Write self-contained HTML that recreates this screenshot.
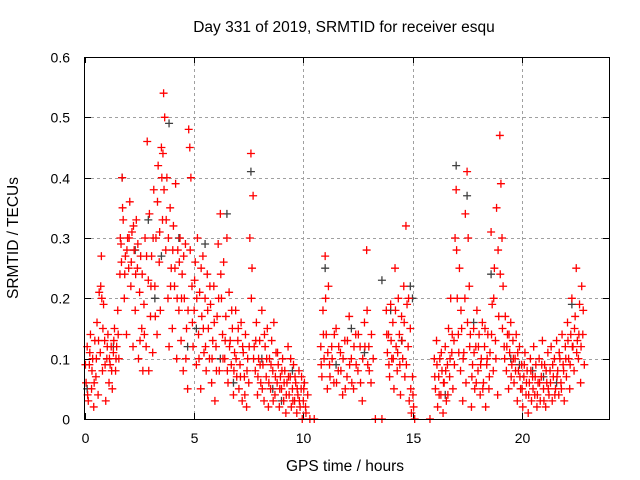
<!DOCTYPE html>
<html><head><meta charset="utf-8"><style>
html,body{margin:0;padding:0;background:#fff;}
svg{display:block;font-family:"Liberation Sans",sans-serif;}
</style></head><body>
<svg id="chart" width="640" height="480">
<text x="344" y="32" font-size="15.5" text-anchor="middle">Day 331 of 2019, SRMTID for receiver esqu</text>
<text x="345" y="471" font-size="15.5" text-anchor="middle">GPS time / hours</text>
<text transform="translate(18,238) rotate(-90)" font-size="15.5" text-anchor="middle">SRMTID / TECUs</text>
<g id="grid"></g>
<g id="axes"></g>
<g id="marks"></g>
<rect x="84.5" y="57.5" width="525" height="362" fill="none" stroke="#000"/>
</svg>
<script>
const xTicks=[0,5,10,15,20];
const yTicks=[0,0.1,0.2,0.3,0.4,0.5,0.6];
const yTickLabels=["0","0.1","0.2","0.3","0.4","0.5","0.6"];
const redT=[0.05,0.1,0.15,0.2,0.25,0.3,0.35,0.4,0.45,0.5,0.55,0.6,0.65,0.7,0.75,0.8,0.85,0.9,0.95,1.0,1.05,1.1,1.15,1.2,1.25,1.3,1.35,1.4,1.45,1.5,1.55,1.6,1.65,1.7,1.75,1.8,1.85,1.9,1.95,2.0,2.05,2.1,2.15,2.2,2.25,2.3,2.35,2.4,2.45,2.5,2.55,2.6,2.65,2.7,2.75,2.8,2.85,2.9,2.95,3.0,3.05,3.1,3.15,3.2,3.25,3.3,3.35,3.4,3.45,3.5,3.55,3.6,3.65,3.7,3.75,3.8,3.85,3.9,3.95,4.0,4.05,4.1,4.15,4.2,4.25,4.3,4.35,4.4,4.45,4.5,4.55,4.6,4.65,4.7,4.75,4.8,4.85,4.9,4.95,5.0,5.05,5.1,5.15,5.2,5.25,5.3,5.35,5.4,5.45,5.5,5.55,5.6,5.65,5.7,5.75,5.8,5.85,5.9,5.95,6.0,6.05,6.1,6.15,6.2,6.25,6.3,6.35,6.4,6.45,6.5,6.55,6.6,6.65,6.7,6.75,6.8,6.85,6.9,6.95,7.0,7.05,7.1,7.15,7.2,7.25,7.3,7.35,7.4,7.45,7.5,7.55,7.6,7.65,7.7,7.75,7.8,7.85,7.9,7.95,8.0,8.05,8.1,8.15,8.2,8.25,8.3,8.35,8.4,8.45,8.5,8.55,8.6,8.65,8.7,8.75,8.8,8.85,8.9,8.95,9.0,9.05,9.1,9.15,9.2,9.25,9.3,9.35,9.4,9.45,9.5,9.55,9.6,9.65,9.7,9.75,9.8,9.85,9.9,9.95,10.0,10.05,10.1,10.2,10.3,10.5,10.8,10.85,10.9,10.95,11.0,11.05,11.1,11.15,11.2,11.3,11.4,11.5,11.6,11.7,11.8,11.9,12.0,12.1,12.2,12.3,12.4,12.5,12.6,12.7,12.8,12.9,12.95,13.0,13.1,13.2,13.3,13.6,13.8,13.85,13.9,13.95,14.0,14.05,14.1,14.15,14.2,14.25,14.3,14.35,14.4,14.45,14.5,14.55,14.6,14.65,14.7,14.75,14.8,14.85,14.9,14.95,15.0,15.05,15.1,15.8,16.0,16.05,16.1,16.15,16.2,16.25,16.3,16.35,16.4,16.45,16.5,16.55,16.6,16.65,16.7,16.75,16.8,16.85,16.9,16.95,17.0,17.05,17.1,17.15,17.2,17.25,17.3,17.35,17.4,17.45,17.5,17.55,17.6,17.65,17.7,17.75,17.8,17.85,17.9,17.95,18.0,18.05,18.1,18.15,18.2,18.25,18.3,18.35,18.4,18.45,18.5,18.55,18.6,18.65,18.7,18.75,18.8,18.85,18.9,18.95,19.0,19.05,19.1,19.15,19.2,19.25,19.3,19.35,19.4,19.45,19.5,19.55,19.6,19.65,19.7,19.75,19.8,19.85,19.9,19.95,20.0,20.05,20.1,20.15,20.2,20.25,20.3,20.35,20.4,20.45,20.5,20.55,20.6,20.65,20.7,20.75,20.8,20.85,20.9,20.95,21.0,21.05,21.1,21.15,21.2,21.25,21.3,21.35,21.4,21.45,21.5,21.55,21.6,21.65,21.7,21.75,21.8,21.85,21.9,21.95,22.0,22.05,22.1,22.15,22.2,22.25,22.3,22.35,22.4,22.45,22.5,22.55,22.6,22.65,22.7,22.75,22.8];
const redV=[.06,.12,.03,.09,.14,.05,.1,.02,.13,.07,.16,.04,.21,.11,.27,.08,.19,.13,.03,.1,.14,.06,.09,.12,.05,.11,.15,.08,.12,.18,.1,.24,.29,.4,.33,.2,.27,.14,.3,.25,.36,.22,.31,.12,.28,.18,.33,.25,.1,.21,.27,.15,.08,.19,.3,.12,.46,.23,.34,.17,.27,.11,.38,.22,.3,.14,.42,.26,.18,.45,.33,.54,.5,.28,.4,.2,.12,.35,.25,.15,.32,.22,.39,.1,.28,.18,.3,.13,.24,.08,.2,.29,.15,.05,.48,.45,.4,.22,.12,.18,.26,.09,.3,.14,.21,.05,.17,.27,.11,.2,.08,.24,.15,.1,.19,.06,.13,.22,.03,.12,.17,.29,.08,.34,.2,.14,.26,.1,.17,.3,.06,.21,.13,.09,.15,.04,.11,.18,.07,.13,.05,.09,.16,.03,.11,.07,.14,.02,.1,.06,.3,.44,.25,.37,.12,.08,.16,.04,.1,.13,.06,.18,.09,.03,.12,.07,.15,.02,.1,.05,.13,.08,.16,.04,.11,.06,.09,.02,.07,.05,.1,.03,.08,.01,.06,.12,.04,.07,.02,.05,.09,.03,.06,.01,.04,.08,.02,.05,0,.03,.06,.02,.04,0,0,.12,.07,.18,.1,.27,.14,.05,.22,.09,.12,.06,.15,.08,.11,.04,.13,.07,.17,.1,.05,.14,.08,.12,.03,.16,.28,.09,.12,.06,.1,0,0,.18,.11,.14,.07,.19,.1,.16,.05,.25,.12,.08,.2,.14,.04,.17,.1,.22,.07,.32,.19,.12,.03,.15,.01,.07,.02,0,0,.1,.05,.13,.02,.07,.1,.04,.08,.01,.06,.12,.03,.09,.15,.07,.2,.11,.05,.13,.3,.38,.2,.14,.25,.08,.15,.03,.11,.2,.06,.41,.3,.22,.14,.02,.09,.15,.05,.12,.18,.08,.14,.04,.1,.16,.06,.12,.02,.09,.14,.05,.11,.31,.19,.08,.25,.13,.35,.04,.17,.47,.39,.3,.22,.12,.17,.08,.14,.05,.11,.16,.09,.13,.06,.1,.14,.03,.08,.12,.05,.09,.02,.07,.11,.04,.08,.01,.06,.1,.03,.07,.12,.04,.09,.02,.06,.1,.03,.07,.13,.05,.09,.02,.06,.11,.04,.08,.12,.03,.07,.1,.05,.13,.08,.04,.1,.06,.14,.09,.03,.12,.07,.16,.1,.05,.14,.2,.12,.08,.17,.25,.13,.1,.19,.06,.22,.14];
const red2T=[0.02,0.12,0.22,0.32,0.42,0.52,0.62,0.72,0.77,0.82,0.92,1.02,1.12,1.22,1.32,1.42,1.52,1.62,1.67,1.72,1.82,1.92,2.02,2.12,2.22,2.32,2.42,2.52,2.62,2.72,2.82,2.92,3.02,3.12,3.22,3.32,3.42,3.52,3.57,3.62,3.72,3.82,3.92,4.02,4.12,4.22,4.32,4.42,4.52,4.62,4.72,4.82,4.92,5.02,5.12,5.22,5.32,5.42,5.52,5.62,5.72,5.82,5.92,6.02,6.12,6.22,6.32,6.42,6.52,6.62,6.72,6.82,6.92,7.02,7.12,7.22,7.32,7.42,7.52,7.62,7.72,7.82,7.92,8.02,8.12,8.22,8.32,8.42,8.52,8.62,8.72,8.82,8.92,9.02,9.12,9.22,9.32,9.42,9.52,9.62,9.72,9.82,9.92,10.02,10.12,10.82,10.92,11.02,11.12,11.22,11.32,11.42,11.52,11.62,11.72,11.82,11.92,12.02,12.12,12.22,12.32,12.42,12.52,12.62,12.72,12.82,12.92,13.02,13.12,13.82,13.92,14.02,14.12,14.22,14.32,14.42,14.52,14.62,14.72,14.82,14.92,15.02,16.02,16.12,16.22,16.32,16.42,16.52,16.62,16.72,16.82,16.92,17.02,17.12,17.22,17.32,17.42,17.52,17.62,17.72,17.82,17.92,18.02,18.12,18.22,18.32,18.42,18.52,18.62,18.72,18.82,18.92,19.02,19.12,19.22,19.32,19.42,19.52,19.62,19.72,19.82,19.92,20.02,20.12,20.22,20.32,20.42,20.52,20.62,20.72,20.82,20.92,21.02,21.12,21.22,21.32,21.42,21.52,21.62,21.72,21.82,21.92,22.02,22.12,22.22,22.32,22.42,22.52,22.62,22.72,22.82,22.87];
const red2V=[.09,.04,.11,.08,.06,.1,.13,.22,.2,.15,.09,.12,.1,.08,.13,.1,.14,.3,.26,.35,.24,.28,.3,.26,.32,.24,.29,.13,.24,.14,.27,.08,.22,.3,.17,.36,.31,.4,.44,.38,.33,.3,.22,.28,.25,.2,.26,.2,.27,.1,.18,.28,.16,.23,.2,.1,.25,.15,.12,.18,.22,.1,.16,.08,.2,.24,.1,.13,.08,.12,.18,.08,.1,.15,.07,.12,.04,.08,.12,.2,.1,.13,.07,.09,.05,.14,.1,.06,.09,.03,.07,.11,.05,.08,.06,.04,.07,.1,.03,.07,.05,.03,.07,.05,.01,.09,.14,.2,.11,.07,.1,.14,.06,.12,.08,.1,.05,.13,.09,.06,.12,.09,.14,.06,.1,.12,.18,.08,.14,.14,.09,.13,.1,.18,.11,.09,.13,.16,.09,.2,.05,.04,.07,.09,.04,.11,.06,.08,.04,.1,.14,.09,.28,.11,.18,.1,.34,.16,.12,.07,.11,.06,.12,.09,.05,.15,.1,.07,.14,.2,.1,.28,.24,.15,.1,.12,.14,.07,.1,.08,.11,.07,.05,.09,.06,.04,.08,.05,.07,.04,.06,.09,.03,.08,.05,.06,.09,.04,.07,.11,.05,.08,.1,.13,.09,.12,.15,.11,.14,.12,.18,.09];
const darkT=[0.1,1.7,2.9,3.5,3.85,4.3,5.5,6.5,7.6,8.1,9.5,11.0,12.2,13.6,14.0,14.9,15.0,17.0,17.5,18.6,19.5,21.0,22.3,2.3,4.7,6.8,9.0,11.5,16.5,20.5,1.3,3.2,5.1,6.2,8.6,12.8,14.5,17.8,19.9,21.6];
const darkV=[.05,.4,.33,.27,.49,.3,.29,.34,.41,.1,.08,.25,.15,.23,.18,.22,.2,.42,.37,.24,.1,.07,.19,.28,.12,.06,.03,.09,.04,.08,.12,.2,.15,.1,.05,.11,.13,.16,.09,.06];
const NS="http://www.w3.org/2000/svg";
const X0=85,X1=609,Y0=419,Y1=57;
function sx(t){return X0+(t/24)*(X1-X0);}
function sy(v){return Y0-(v/0.6)*(Y0-Y1);}
function mk(tag,attrs,parent){const e=document.createElementNS(NS,tag);for(const k in attrs)e.setAttribute(k,attrs[k]);parent.appendChild(e);return e;}
const grid=document.getElementById('grid'),axes=document.getElementById('axes'),marks=document.getElementById('marks');
yTicks.forEach((v,i)=>{
  const y=Math.round(sy(v))+0.5;
  if(i>0&&i<yTicks.length-1){const g=mk('line',{x1:X0,x2:X1,y1:y,y2:y,stroke:'#a0a0a0','stroke-dasharray':'3,3'},grid);
  
  }
  const t1=mk('line',{x1:X0,x2:X0+6,y1:y,y2:y,stroke:'#000'},axes);
  
  
  const t2=mk('line',{x1:X1-6,x2:X1,y1:y,y2:y,stroke:'#000'},axes);
  
  
  const lb=mk('text',{x:70,y:y+5,'font-size':14,'text-anchor':'end'},axes);
  lb.textContent=yTickLabels[i];
  
  
});
xTicks.forEach(t=>{
  const x=Math.round(sx(t))+0.5;
  if(t>0){const g=mk('line',{x1:x,x2:x,y1:Y1,y2:Y0,stroke:'#a0a0a0','stroke-dasharray':'3,3'},grid);
  
  }
  const t1=mk('line',{x1:x,x2:x,y1:Y0,y2:Y0-6,stroke:'#000'},axes);
  
  
  const t2=mk('line',{x1:x,x2:x,y1:Y1,y2:Y1+6,stroke:'#000'},axes);
  
  
  const lb=mk('text',{x:x,y:443,'font-size':14,'text-anchor':'middle'},axes);
  lb.textContent=String(t);
  
  
});
function plus(t,v,color,name){
  const x=sx(t),y=sy(v);
  const p=mk('path',{d:`M${x-4},${y}H${x+4}M${x},${y-4}V${y+4}`,stroke:color,'stroke-width':1.3,fill:'none'},marks);
  
  
}
darkT.forEach((t,i)=>plus(t,darkV[i],'#404040','dark-point'));
redT.forEach((t,i)=>plus(t,redV[i],'#ff0000','red-point'));
red2T.forEach((t,i)=>plus(t,red2V[i],'#ff0000','red-point'));
</script>
</body></html>
